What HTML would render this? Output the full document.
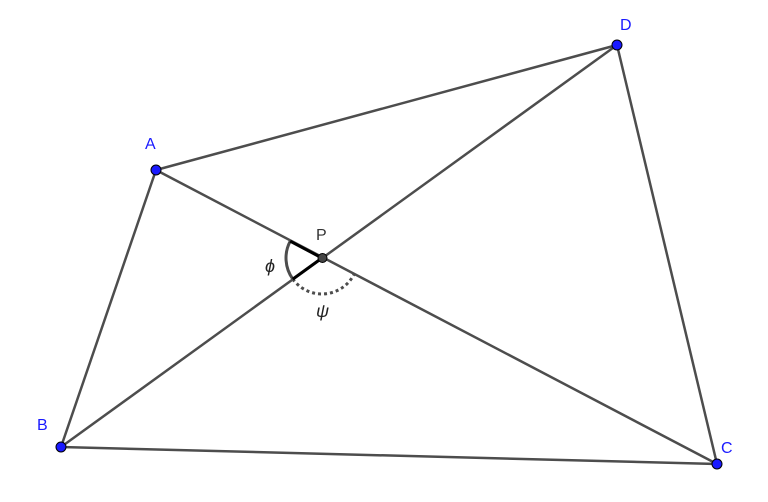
<!DOCTYPE html>
<html><head><style>
html,body{margin:0;padding:0;background:#fff;}
svg{display:block;}
text{font-family:"Liberation Sans",sans-serif;}
</style></head><body>
<svg width="768" height="502" viewBox="0 0 768 502" xmlns="http://www.w3.org/2000/svg">
<g stroke="#4d4d4d" stroke-width="2.5" fill="none">
<line x1="156" y1="170" x2="617" y2="45"/>
<line x1="617" y1="45" x2="717" y2="464"/>
<line x1="717" y1="464" x2="61" y2="447"/>
<line x1="61" y1="447" x2="156" y2="170"/>
<line x1="156" y1="170" x2="717" y2="464"/>
<line x1="61" y1="447" x2="617" y2="45"/>
<path d="M290.2,241.2 A36,36 0 0 0 292.8,279.1" stroke-width="3"/>
<path d="M292.8,279.1 A36,36 0 0 0 353.9,274.6" stroke-dasharray="3,3" stroke-width="3"/>
</g>
<g stroke="#000" stroke-width="3">
<line x1="322" y1="258" x2="290.2" y2="241.2"/>
<line x1="322" y1="258" x2="292.8" y2="279.1"/>
</g>
<g stroke="#000" stroke-width="1" fill="#1a1aff">
<circle cx="156" cy="170" r="5"/>
<circle cx="617" cy="45" r="5"/>
<circle cx="61" cy="447" r="5"/>
<circle cx="717" cy="464" r="5"/>
</g>
<circle cx="322.5" cy="258" r="4.5" fill="#444" stroke="#000" stroke-width="1"/>
<g fill="#1a1aff" font-size="16">
<text x="145" y="149">A</text>
<text x="620" y="30">D</text>
<text x="37" y="430">B</text>
<text x="721" y="453">C</text>
</g>
<text x="316" y="240" font-size="16" fill="#333">P</text>
<text x="265" y="272" font-size="18" font-style="italic" font-family="Liberation Serif,serif" fill="#222">ϕ</text>
<text x="316" y="317" font-size="18" font-style="italic" font-family="Liberation Serif,serif" fill="#222">ψ</text>
</svg>
</body></html>
